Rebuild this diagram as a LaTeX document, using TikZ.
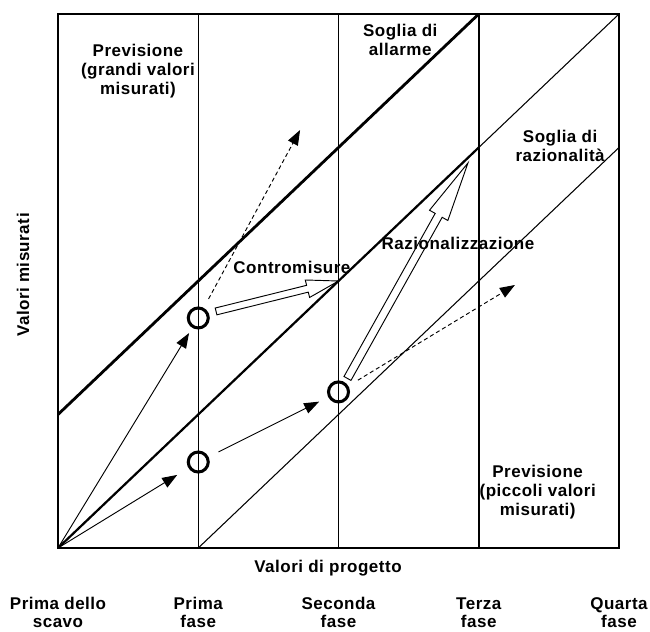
\documentclass[tikz,border=0pt]{standalone}
\usepackage{fontspec}
\setmainfont[LetterSpace=3]{Liberation Sans}
\usetikzlibrary{arrows.meta,calc}

\begin{document}
\begin{tikzpicture}[x=4.2075cm,y=4.005cm,>={Triangle[length=.45cm,width=.33cm]}]
\tikzset{frameline/.style={draw=black,line width=.9pt}, heavy/.style={draw=black,line width=2.4pt},
  lab/.style={font=\bfseries\fontsize{14.5}{16.5}\selectfont,align=center,inner sep=0pt},
  meas/.style={circle,draw=black,line width=2.6pt,minimum size=.6cm,inner sep=0pt,outer sep=0pt},
  arr/.style={->,line width=.8pt}, dasharr/.style={arr,dash pattern=on 3.5pt off 2.5pt},
  hollowarr/.style={draw=black,line width=.8pt,line join=miter}}
\useasboundingbox (-.41355,-.62172) rectangle (4.22103,4.10487);
\draw[frameline] (0,0) rectangle (4,4);
\foreach \x in {1,2} \draw[frameline] (\x,0) -- (\x,4);
\draw[black,line width=1.8pt] (3,0) -- (3,4);
\draw[heavy] (0,1) -- (3,4);
\draw[black,line width=1.9pt] (0,0) -- (3,3);
\draw[frameline] (3,3) -- (4,4);
\draw[frameline] (1,0) -- (4,3);
\coordinate (O) at (0,0);
\node[meas] (m1) at (1,1.723) {};
\node[meas] (m2) at (1,.644) {};
\node[meas] (m3) at (2,1.169) {};
\coordinate (up) at (1.726,3.131);
\coordinate (down) at (3.258,1.97);
\draw[arr,shorten >=.23cm] (O) -- (m1);
\draw[arr,shorten >=.44cm] (O) -- (m2);
\draw[arr,shorten <=.38cm,shorten >=.35cm] (m2) -- (m3);
\draw[dasharr,shorten <=.35cm] (m1) -- (up);
\draw[dasharr,shorten <=.38cm] (m3) -- (down);
\coordinate (cmtail) at (1.127,1.772);
\coordinate (cmtip) at (2,2);
\coordinate (ratail) at (2.064,1.27);
\coordinate (ratip) at (2.923,2.884);
\foreach \ta/\tb/\sw/\hw/\hl in {cmtail/cmtip/.105cm/.27cm/.96cm, ratail/ratip/.12cm/.315cm/1.8cm} {
  \coordinate (hb) at ($(\tb)!\hl!(\ta)$);
  \draw[hollowarr] ($(\ta)!\sw!90:(\tb)$) -- ($(hb)!\sw!90:(\tb)$) -- ($(hb)!\hw!90:(\tb)$) -- (\tb)
    -- ($(hb)!\hw!-90:(\tb)$) -- ($(hb)!\sw!-90:(\tb)$) -- ($(\ta)!\sw!-90:(\tb)$) -- cycle;
}
\node[lab] (grandi) at (.57,3.573) {Previsione\\(grandi valori\\misurati)};
\node[lab] (allarme) at (2.44,3.805) {Soglia di\\allarme};
\node[lab] (soglia) at (3.58,3.011) {Soglia di\\razionalità};
\node[lab] (contro) at (1.668,2.105) {Contromisure};
\node[lab] (razio) at (2.852,2.285) {Razionalizzazione};
\node[lab] (piccoli) at (3.42,.419) {Previsione\\(piccoli valori\\misurati)};
\node[lab,rotate=90] (ylab) at (-.25,2.045) {Valori misurati};
\node[lab] (xlab) at (1.925,-.15) {Valori di progetto};
\foreach \k/\t in {0/Prima dello\\scavo, 1/Prima\\fase, 2/Seconda\\fase, 3/Terza\\fase, 4/Quarta\\fase}
  \node[lab,font=\bfseries\fontsize{14.5}{15.5}\selectfont] (fase\k) at (\k,-.485) {\t};
\end{tikzpicture}
\end{document}
